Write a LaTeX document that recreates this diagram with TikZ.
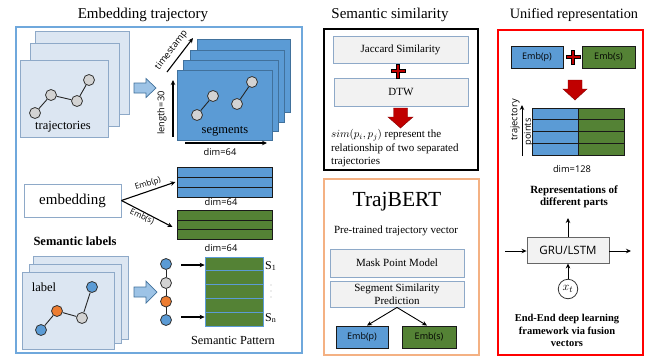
\documentclass[tikz,border=0pt]{standalone}
\usepackage{fontspec}
\setmainfont{Liberation Serif}
\newfontfamily\sansf{Open Sans}
\usetikzlibrary{arrows.meta}
\definecolor{pblue}{HTML}{5B9BD5}
\definecolor{pbluedk}{HTML}{41719C}
\definecolor{pgreen}{HTML}{548235}
\definecolor{pagefill}{HTML}{DCE6F2}
\definecolor{pageline}{HTML}{8EA9C8}
\definecolor{framebl}{HTML}{6FA8DC}
\definecolor{orfr}{HTML}{F4B183}
\definecolor{dred}{HTML}{C00000}
\definecolor{lgray}{HTML}{F2F2F2}
\definecolor{cgray}{HTML}{D3D3D3}
\definecolor{corange}{HTML}{ED7D31}
\definecolor{arrowbl}{HTML}{9DC3E6}
\tikzset{
  pagebox/.style={rectangle, draw=pageline, fill=pagefill, line width=0.9pt, inner sep=0pt},
  segbox/.style={rectangle, draw=pbluedk, fill=pblue, line width=0.8pt, inner sep=0pt},
  dotnode/.style={circle, draw=black!80, line width=0.8pt, minimum size=11pt, inner sep=0pt},
  graybox/.style={rectangle, draw=pageline, fill=lgray, line width=0.9pt, inner sep=0pt},
  titletext/.style={font=\fontsize{15}{18}\selectfont},
  edgeln/.style={line width=0.9pt, black!85},
  arr/.style={-{Stealth[length=5pt,width=4.5pt]}, line width=1.1pt},
  sanslbl/.style={font=\sansf\fontsize{9.3}{11}\selectfont, inner sep=0pt},
  stripe/.style={rectangle, draw=black!90, line width=1pt, inner sep=0pt},
  embbox/.style={rectangle, draw=black!90, line width=0.9pt, inner sep=0pt, minimum width=52pt, minimum height=22pt, font=\sansf\fontsize{9}{11}\selectfont},
  frame/.style={rectangle, line width=1.8pt, inner sep=0pt},
  redarrow/.style={fill=dred, draw=dred!70!black, line width=0.4pt},
  plussign/.style={fill=dred, draw=black, line width=0.5pt},
  blockarrow/.style={fill=arrowbl, draw=pbluedk, line width=0.7pt},
}
\begin{document}
\begin{tikzpicture}[x=1pt,y=-1pt]
\useasboundingbox (0,0) rectangle (654,357);
\fill[white] (0,0) rectangle (654,357);

% ================= LEFT PANEL =================
\node[titletext] (t1) at (143,15) {Embedding trajectory};
\node[frame, draw=framebl, minimum width=286pt, minimum height=326pt] (leftframe) at (159,190) {};

% trajectory pages
\node[pagebox, minimum width=94pt, minimum height=83pt] (tp1) at (82,72.5) {};
\node[pagebox, minimum width=89pt, minimum height=83pt] (tp2) at (74.5,84.5) {};
\node[pagebox, minimum width=88pt, minimum height=77pt] (tp3) at (64,98.5) {};
\node[font=\fontsize{12.5}{14}\selectfont] (trajlbl) at (63,127) {trajectories};
\node[dotnode, fill=cgray] (ta) at (35,113) {};
\node[dotnode, fill=cgray] (tb) at (51,95) {};
\node[dotnode, fill=cgray] (tc) at (77,101) {};
\node[dotnode, fill=cgray] (td) at (89,80) {};
\draw[edgeln] (ta) -- (tb) -- (tc) -- (td);

% block arrow 1
\draw[blockarrow] (134,83) -- (146,83) -- (146,78.5) -- (156,88) -- (146,97.5) -- (146,93) -- (134,93) -- cycle;

% segment pages
\node[segbox, minimum width=93pt, minimum height=73pt] (sp1) at (243.5,75.5) {};
\node[segbox, minimum width=94pt, minimum height=72pt] (sp2) at (237,86) {};
\node[segbox, minimum width=95pt, minimum height=71pt] (sp3) at (230.5,95.5) {};
\node[segbox, minimum width=95pt, minimum height=70pt] (sp4) at (224.5,105) {};
\node[dotnode, fill=cgray] (sa) at (197,115) {};
\node[dotnode, fill=cgray] (sb) at (213,96) {};
\node[dotnode, fill=cgray] (sc) at (237,104) {};
\node[dotnode, fill=cgray] (sd) at (252,82) {};
\draw[edgeln] (sa) -- (sb);
\draw[edgeln] (sc) -- (sd);
\node[font=\fontsize{12.5}{14}\selectfont] (seglbl) at (225,131) {segments};

% axes
\coordinate (ts0) at (167,72);
\coordinate (ts1) at (193,38);
\draw[arr] (ts0) -- (ts1);
\node[sanslbl, rotate=52.6] (tslbl) at (171.5,50.5) {timestamp};
\coordinate (len0) at (173,137);
\coordinate (len1) at (173,80);
\draw[arr] (len0) -- (len1);
\node[sanslbl, rotate=90] (lenlbl) at (162,113) {length=30};
\coordinate (dim0) at (185,143);
\coordinate (dim1) at (267,143);
\draw[arr] (dim0) -- (dim1);
\node[sanslbl] (dimlbl) at (220,152.5) {dim=64};

% embedding
\node[rectangle, draw=pageline, fill=white, line width=0.9pt, minimum width=97pt, minimum height=33pt, font=\fontsize{15}{18}\selectfont] (emb) at (72.5,200.5) {embedding};

% blue stripes
\node[stripe, fill=pblue, minimum width=95pt, minimum height=10pt] (bs1) at (224.5,172) {};
\node[stripe, fill=pblue, minimum width=95pt, minimum height=10pt] (bs2) at (224.5,182) {};
\node[stripe, fill=pblue, minimum width=95pt, minimum height=10pt] (bs3) at (224.5,192) {};
\node[sanslbl] (dimb) at (221,202.5) {dim=64};
% green stripes
\node[stripe, fill=pgreen, minimum width=95pt, minimum height=10pt] (gs1) at (224.5,215) {};
\node[stripe, fill=pgreen, minimum width=95pt, minimum height=10pt] (gs2) at (224.5,225) {};
\node[stripe, fill=pgreen, minimum width=95pt, minimum height=10pt] (gs3) at (224.5,234.5) {};
\node[sanslbl] (dimg) at (221,248.5) {dim=64};

\draw[arr] (emb.east) -- ([xshift=-1pt]bs2.west);
\draw[arr] (emb.east) -- ([xshift=-4pt,yshift=-2pt]gs2.west);
\node[sanslbl, font=\sansf\fontsize{8}{9}\selectfont, rotate=17] (ep_lbl) at (148,184) {Emb(p)};
\node[sanslbl, font=\sansf\fontsize{8}{9}\selectfont, rotate=-25] (es_lbl) at (142,216.5) {Emb(s)};

\node[font=\bfseries\fontsize{12.5}{14}\selectfont] (semlab) at (75,241) {Semantic labels};

% label pages
\node[pagebox, minimum width=95pt, minimum height=83pt] (lp1) at (80.5,297.5) {};
\node[pagebox, minimum width=92pt, minimum height=79pt] (lp2) at (75,303.5) {};
\node[pagebox, minimum width=92pt, minimum height=77pt] (lp3) at (68,310.5) {};
\node[font=\fontsize{12.5}{14}\selectfont] (lablbl) at (44,287) {label};
\node[dotnode, fill=pblue] (la) at (41,330) {};
\node[dotnode, fill=corange] (lb) at (57,311) {};
\node[dotnode, fill=cgray] (lc) at (82,318) {};
\node[dotnode, fill=pblue] (ld) at (92,287) {};
\draw[edgeln] (la) -- (lb) -- (lc) -- (ld);

% block arrow 2
\draw[blockarrow] (134,287) -- (146,287) -- (146,281) -- (157,292) -- (146,303) -- (146,297) -- (134,297) -- cycle;

% chain
\node[dotnode, fill=pblue] (ca) at (166,264) {};
\node[dotnode, fill=cgray] (cb) at (166,283) {};
\node[dotnode, fill=corange] (cc) at (166,301.5) {};
\node[dotnode, fill=pblue] (cd) at (166,320) {};
\draw[edgeln] (ca) -- (cb) -- (cc) -- (cd);

% pattern
\foreach \i/\yy in {1/263.9,2/277.7,3/291.5,4/305.3,5/319.1}{
  \node[rectangle, draw=pblue, fill=pgreen, line width=0.7pt, minimum width=58pt, minimum height=13.8pt, inner sep=0pt] (pr\i) at (234,\yy) {};
}
\coordinate (pa0) at (181,265);
\coordinate (pb0) at (181,317);
\draw[arr] (pa0) -- (pr1.west |- pa0);
\draw[arr] (pb0) -- (pr5.west |- pb0);
\node[font=\fontsize{12}{14}\selectfont, anchor=west, inner sep=0pt] (s1) at (265,266) {S\textsubscript{1}};
\node[font=\fontsize{12}{14}\selectfont, anchor=west, inner sep=0pt] (sn) at (265,318) {S\textsubscript{n}};
\foreach \yy in {285,291,297}{ \fill[gray!60] (271,\yy) circle (0.6pt); }
\node[font=\fontsize{12.3}{14}\selectfont] (sempat) at (233,340) {Semantic Pattern};

% ================= MIDDLE PANEL =================
\node[titletext] (t2) at (390,15) {Semantic similarity};
\node[frame, draw=black, minimum width=154pt, minimum height=141pt] (simframe) at (401,99.5) {};
\node[graybox, minimum width=135pt, minimum height=27pt, font=\fontsize{11}{13}\selectfont] (jac) at (400.5,49.5) {Jaccard Similarity};
\node[graybox, minimum width=134pt, minimum height=28pt, font=\fontsize{11}{13}\selectfont] (dtw) at (401,92) {DTW};
\draw[plussign] (396.5,64) -- (399.5,64) -- (399.5,69.5) -- (405,69.5) -- (405,72.5) -- (399.5,72.5) -- (399.5,78) -- (396.5,78) -- (396.5,72.5) -- (391,72.5) -- (391,69.5) -- (396.5,69.5) -- cycle;
\draw[redarrow] (393.5,108) -- (407.5,108) -- (407.5,117) -- (413,117) -- (400.5,128) -- (388,117) -- (393.5,117) -- cycle;
\node[anchor=west, align=left, inner sep=0pt, font=\fontsize{11}{13.5}\selectfont] (simtext) at (331,148.5) {$sim(p_i,p_j)$ represent the\\relationship of two separated\\trajectories};

\node[frame, draw=orfr, minimum width=155pt, minimum height=176pt] (bertframe) at (401.5,267) {};
\node[font=\fontsize{21.5}{24}\selectfont] (bert) at (397,202) {TrajBERT};
\node[font=\fontsize{11}{13}\selectfont] (pretr) at (396,231) {Pre-trained trajectory vector};
\node[graybox, minimum width=134pt, minimum height=28pt, font=\fontsize{11}{13}\selectfont] (mpm) at (397,263) {Mask Point Model};
\node[graybox, minimum width=134pt, minimum height=26pt, align=center, font=\fontsize{11}{12.5}\selectfont] (ssp) at (397,294) {Segment Similarity\\Prediction};
\node[embbox, fill=pblue] (mep) at (362,337) {Emb(p)};
\node[embbox, fill=pgreen, minimum width=54pt] (mes) at (429,337) {Emb(s)};
\draw[arr, line width=0.9pt] (ssp.south) -- ([xshift=5pt]mep.north);
\draw[arr, line width=0.9pt] (ssp.south) -- ([xshift=-2pt]mes.north);

% ================= RIGHT PANEL =================
\node[titletext, font=\fontsize{14.3}{17}\selectfont] (t3) at (574,15) {Unified representation};
\node[frame, draw=red, minimum width=145pt, minimum height=325pt] (redframe) at (570.5,192.5) {};
\node[embbox, fill=pblue] (rep) at (537,57) {Emb(p)};
\node[embbox, fill=pgreen, minimum width=53pt] (res) at (608.5,57) {Emb(s)};
\draw[plussign] (571.5,50) -- (574.5,50) -- (574.5,55.5) -- (580,55.5) -- (580,58.5) -- (574.5,58.5) -- (574.5,64) -- (571.5,64) -- (571.5,58.5) -- (566,58.5) -- (566,55.5) -- (571.5,55.5) -- cycle;
\draw[redarrow] (568,80) -- (582,80) -- (582,89) -- (587,89) -- (575,100) -- (563,89) -- (568,89) -- cycle;
% grid
\foreach \i/\yy in {1/114,2/125.8,3/137.5,4/149.2}{
  \node[stripe, fill=pblue, minimum width=46pt, minimum height=11.7pt] (gb\i) at (555,\yy) {};
  \node[stripe, fill=pgreen, minimum width=46pt, minimum height=11.7pt] (gg\i) at (601,\yy) {};
}
\coordinate (tp0) at (522,156);
\coordinate (tp1a) at (522,105);
\draw[arr, line width=1pt] (tp0) -- (tp1a);
\node[sanslbl, rotate=90] (trjlbl) at (515,120) {trajectory};
\node[sanslbl, rotate=90] (ptslbl) at (528.5,132) {points};
\node[sanslbl] (dim128) at (572,169) {dim=128};
\node[align=center, font=\bfseries\fontsize{11}{12.5}\selectfont] (reprs) at (574,197) {Representations of\\different parts};
\node[rectangle, draw=black!60, fill=lgray, line width=0.9pt, minimum width=82pt, minimum height=26pt, font=\sansf\fontsize{11.5}{13}\selectfont] (gru) at (568,250) {GRU/LSTM};
\coordinate (gtop) at (568,218);
\coordinate (gin) at (505,251);
\coordinate (gout) at (631,251);
\node[circle, draw=black!80, line width=0.8pt, minimum size=19.5pt, inner sep=0pt, font=\fontsize{13}{14}\selectfont] (xt) at (568,289) {$x_t$};
\draw[arr, line width=1pt] (gru.north) -- (gtop);
\draw[arr, line width=1pt] (gin) -- (gru.west |- gin);
\draw[arr, line width=1pt] (gru.east |- gout) -- (gout);
\draw[arr, line width=1pt] (xt.north) -- (gru.south);
\node[align=center, font=\bfseries\fontsize{10.5}{12.5}\selectfont] (e2e) at (567,330.5) {End-End deep learning\\framework via fusion\\vectors};
\end{tikzpicture}
\end{document}
